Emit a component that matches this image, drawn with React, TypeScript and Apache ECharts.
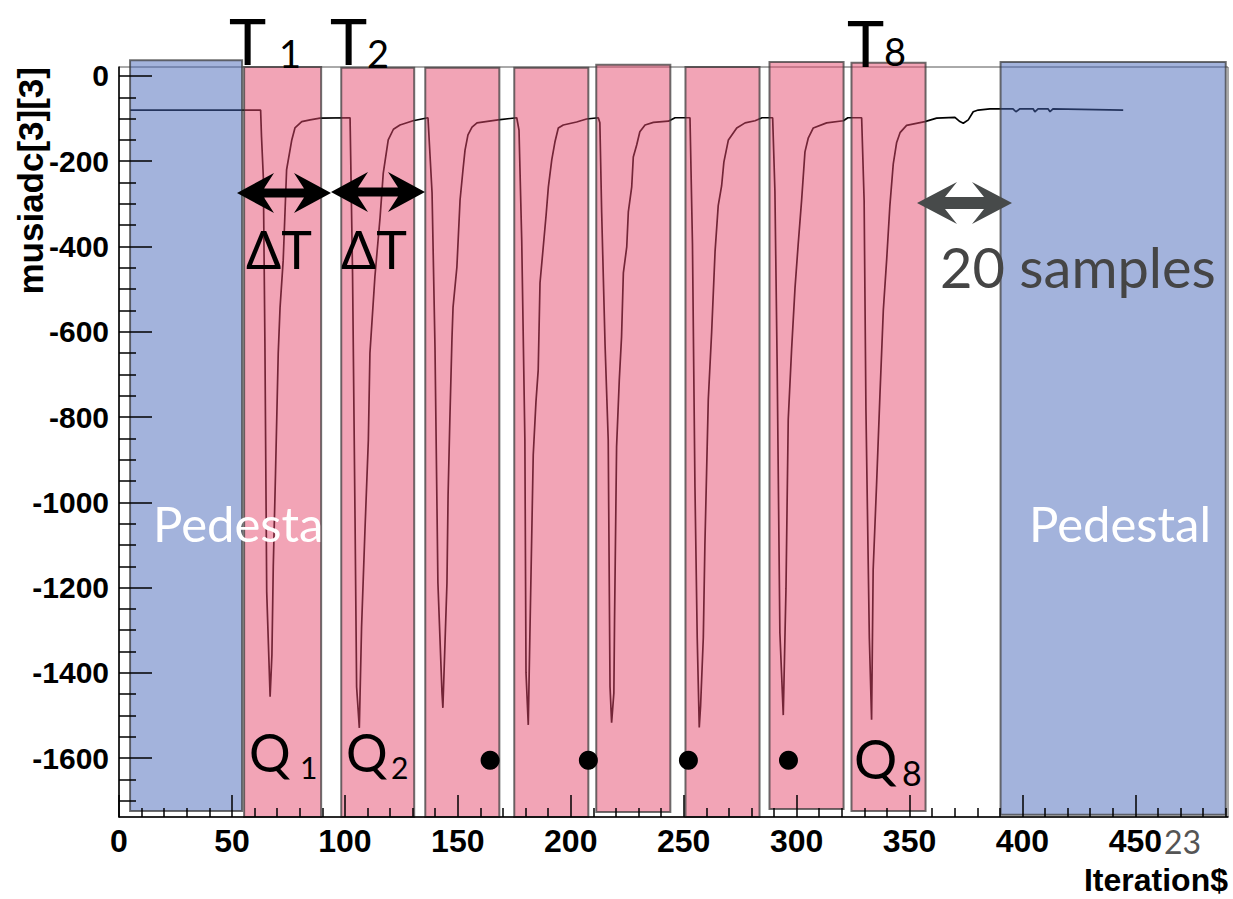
import React, { useEffect, useRef } from 'react';
import * as echarts from 'echarts';

// ---- axis ticks ----
const xMajor = [0, 50, 100, 150, 200, 250, 300, 350, 400, 450];
const xMinor = [10, 20, 30, 40, 60, 70, 80, 90, 110, 120, 130, 140, 160, 170, 180, 190, 210, 220, 230, 240,
  260, 270, 280, 290, 310, 320, 330, 340, 360, 370, 380, 390, 410, 420, 430, 440, 460, 470, 480, 490];
const yMajor = [-1600, -1400, -1200, -1000, -800, -600, -400, -200, 0];
const yMinor = [-1700, -1650, -1550, -1500, -1450, -1350, -1300, -1250, -1150, -1100, -1050, -950, -900, -850,
  -750, -700, -650, -550, -500, -450, -350, -300, -250, -150, -100, -50];

// ---- waveform (Iteration$, musiadc[3][3]) ----
const lead = [[4.9, -80], [62.7, -80]];
const pulse1 = [[63.1, -143], [63.9, -237], [64.6, -626], [65.4, -1210], [66.9, -1456], [67.7, -1358], [68.3, -1151],
  [69.3, -931], [70.5, -650], [71.3, -544], [72.7, -432], [74.2, -220], [76.5, -150], [77.9, -122], [80.9, -107],
  [84.6, -103], [89.0, -99], [102.3, -98]];
const pulse2 = [[103.4, -462], [104.5, -1037], [105.2, -1433], [106.4, -1529], [107.4, -1292], [108.9, -1065],
  [110.4, -854], [111.1, -650], [113.3, -471], [115.6, -331], [117.0, -228], [119.2, -150], [121.5, -125],
  [124.4, -115], [130.2, -105], [136.8, -98]];
const pulse3 = [[138.6, -274], [139.9, -636], [141.2, -1189], [143.0, -1447], [143.4, -1482], [145.2, -1189],
  [145.7, -983], [146.5, -802], [147.4, -619], [147.9, -542], [149.6, -448], [151.0, -291], [152.3, -220],
  [153.2, -174], [154.5, -138], [156.3, -120], [158.5, -110], [167.8, -103], [176.1, -98]];
const pulse4 = [[177.1, -127], [178.3, -385], [179.7, -854], [180.2, -1400], [181.2, -1522], [181.9, -1316],
  [183.4, -889], [184.6, -765], [185.6, -690], [186.4, -485], [187.8, -403], [189.1, -326], [190.1, -260],
  [191.6, -197], [193.0, -155], [194.5, -122], [196.7, -115], [202.6, -108], [207.0, -101], [212.2, -98]];
const pulse5 = [[212.9, -110], [213.7, -321], [215.2, -631], [216.6, -854], [217.4, -1433], [218.1, -1517],
  [219.1, -1447], [219.4, -1276], [220.3, -870], [221.5, -713], [222.5, -612], [223.3, -462], [224.8, -401],
  [225.5, -319], [227.0, -260], [227.7, -190], [229.2, -162], [230.6, -131], [232.9, -115], [236.6, -109],
  [243.2, -106], [246.2, -98], [252.8, -98]];
const pulse6 = [[253.9, -395], [255.0, -964], [256.0, -1317], [256.9, -1528], [257.5, -1477], [258.7, -1317],
  [259.4, -1100], [260.9, -759], [262.4, -600], [263.9, -412], [265.3, -304], [266.8, -258], [267.8, -202],
  [269.8, -150], [273.5, -122], [277.2, -110], [281.6, -105], [284.7, -98], [289.4, -98]];
const pulse7 = [[290.4, -270], [291.4, -680], [292.6, -1306], [294.1, -1499], [295.3, -1203], [296.3, -805],
  [297.8, -640], [299.3, -497], [300.7, -395], [302.2, -293], [303.7, -178], [305.2, -145], [307.4, -122],
  [313.3, -110], [320.7, -105], [322.7, -98], [328.8, -98]];
const pulse8 = [[329.9, -293], [330.7, -782], [332.2, -1317], [333.2, -1510], [333.9, -1158], [335.4, -959],
  [336.9, -748], [338.4, -549], [339.9, -429], [341.3, -304], [342.8, -206], [344.3, -156], [345.8, -133],
  [348.7, -116], [356.8, -107], [362.0, -99], [370.1, -97]];
const tail = [[372.3, -107], [373.8, -111], [376.0, -103], [378.2, -84], [380.4, -80], [385.6, -77], [395.8, -77],
  [397.1, -84], [398.9, -77], [404.7, -77], [405.5, -84], [406.9, -77], [411.3, -77], [412.2, -84], [413.5, -77],
  [444.6, -80]];

// ---- shaded windows (pedestal = 0, pulse = 1) ----
const rectStart = [4.9, 55.4, 98.4, 135.6, 175.0, 211.3, 250.8, 288.0, 324.3, 390.3];
const rectEnd = [54.5, 89.5, 130.7, 168.4, 207.8, 244.1, 283.6, 320.8, 357.1, 490.0];
const rectTop = [37, 21, 19, 19, 19, 26, 21, 33, 31, 33];
const rectBottom = [-1724, -1738, -1738, -1738, -1738, -1726, -1738, -1719, -1724, -1733];
const rectKind = [0, 1, 1, 1, 1, 1, 1, 1, 1, 0];

// ---- dots ----
const dotX = [164.3, 207.8, 252.1, 296.4];
const dotY = [-1605, -1605, -1605, -1605];

const X_MIN = 0;
const X_MAX = 491;
const Y_MIN = -1738;
const Y_MAX = 21;

const AXIS_FONT = '"Liberation Sans", Arial, Helvetica, sans-serif';
const ANNOT_FONT = 'Lato, "Open Sans", sans-serif';

function arrow(x1: number, x2: number, cy: number, L: number, H: number, t: number, n: number, fill: string) {
  return {
    type: 'polygon',
    z: 20,
    shape: {
      points: [
        [x1, cy], [x1 + L, cy - H], [x1 + L - n, cy - t], [x2 - L + n, cy - t], [x2 - L, cy - H],
        [x2, cy], [x2 - L, cy + H], [x2 - L + n, cy + t], [x1 + L - n, cy + t], [x1 + L, cy + H],
      ],
    },
    style: { fill },
  };
}

function label(text: string, x: number, y: number, size: number, color = '#000', extra: any = {}) {
  return {
    type: 'text',
    z: 20,
    x,
    y,
    style: {
      text,
      fill: color,
      font: `${extra.weight || 'normal'} ${size}px ${extra.family || ANNOT_FONT}`,
      align: extra.align || 'left',
      verticalAlign: 'middle',
    },
    ...(extra.rotation ? { rotation: extra.rotation } : {}),
  };
}

export default function App() {
  const ref = useRef<HTMLDivElement>(null);

  useEffect(() => {
    const chart = echarts.init(ref.current!, null, { renderer: 'svg' });
    const trace = [...lead, ...pulse1, ...pulse2, ...pulse3, ...pulse4, ...pulse5, ...pulse6, ...pulse7, ...pulse8, ...tail];
    const rects = rectStart.map((s, i) => [s, rectEnd[i], rectTop[i], rectBottom[i], rectKind[i]]);
    const dots = dotX.map((x, i) => [x, dotY[i]]);

    const tickStyle = { color: '#000', width: 1.5 };
    const plain = (v: number) => String(v);

    const option: any = {
      animation: false,
      backgroundColor: '#ffffff',
      grid: { left: 119, right: 5, top: 67, bottom: 82, show: true, borderColor: '#555', borderWidth: 1, backgroundColor: 'transparent' },
      xAxis: [
        {
          type: 'value', min: X_MIN, max: X_MAX, position: 'bottom', z: 6,
          axisLine: { show: true, onZero: false, lineStyle: { color: '#000', width: 1.5 } },
          axisTick: { show: true, inside: true, length: 22, customValues: xMajor, lineStyle: tickStyle },
          axisLabel: { show: true, customValues: xMajor, formatter: plain, margin: 8, fontFamily: AXIS_FONT, fontWeight: 'bold', fontSize: 32, color: '#000' },
          splitLine: { show: false },
        },
        {
          type: 'value', min: X_MIN, max: X_MAX, position: 'top', offset: -750, z: 6,
          axisLine: { show: false, onZero: false },
          axisTick: { show: true, inside: false, length: 9, customValues: xMinor, lineStyle: tickStyle },
          axisLabel: { show: false },
          splitLine: { show: false },
        },
      ],
      yAxis: [
        {
          type: 'value', min: Y_MIN, max: Y_MAX, position: 'left', z: 6,
          axisLine: { show: true, onZero: false, lineStyle: { color: '#000', width: 1.5 } },
          axisTick: { show: true, inside: true, length: 33, customValues: yMajor, lineStyle: tickStyle },
          axisLabel: { show: true, customValues: yMajor, formatter: plain, margin: 10, fontFamily: AXIS_FONT, fontWeight: 'bold', fontSize: 30, color: '#000' },
          splitLine: { show: false },
        },
        {
          type: 'value', min: Y_MIN, max: Y_MAX, position: 'right', offset: -1109, z: 6,
          axisLine: { show: false, onZero: false },
          axisTick: { show: true, inside: false, length: 17, customValues: yMinor, lineStyle: tickStyle },
          axisLabel: { show: false },
          splitLine: { show: false },
        },
      ],
      series: [
        {
          type: 'line',
          data: trace,
          xAxisIndex: 0,
          yAxisIndex: 0,
          showSymbol: false,
          symbol: 'none',
          z: 2,
          lineStyle: { color: '#000', width: 1.7 },
        },
        {
          type: 'custom',
          data: rects,
          xAxisIndex: 0,
          yAxisIndex: 0,
          clip: false,
          z: 3,
          encode: { x: [0, 1], y: [2, 3] },
          renderItem: (params: any, api: any) => {
            const p0 = api.coord([api.value(0), api.value(2)]);
            const p1 = api.coord([api.value(1), api.value(3)]);
            const kind = api.value(4);
            return {
              type: 'rect',
              shape: { x: p0[0], y: p0[1], width: p1[0] - p0[0], height: p1[1] - p0[1] },
              style: {
                fill: kind === 0 ? 'rgba(72,104,186,0.5)' : 'rgba(230,74,110,0.5)',
                stroke: 'rgba(55,55,55,0.72)',
                lineWidth: 2,
              },
            };
          },
        },
        {
          type: 'scatter',
          data: dots,
          xAxisIndex: 0,
          yAxisIndex: 0,
          symbol: 'circle',
          symbolSize: 19,
          z: 4,
          itemStyle: { color: '#000', opacity: 1 },
        },
      ],
      graphic: [
        arrow(237, 331, 193, 37, 20, 4.5, 10, '#000'),
        arrow(331, 425, 192, 37, 20, 4.5, 10, '#000'),
        arrow(917, 1012, 203, 40, 21, 6, 12, '#474a4a'),
        label('T', 229, 40, 63),
        label('1', 279, 53, 38),
        label('T', 330, 40, 63),
        label('2', 367, 53, 38),
        label('T', 847, 42, 63),
        label('8', 884, 51, 38),
        label('ΔT', 246, 249, 52),
        label('ΔT', 341, 249, 52),
        label('20 samples', 940, 266, 56, '#454545'),
        label('Pedesta', 153, 523, 49, '#ffffff'),
        label('Pedestal', 1029, 523, 49, '#ffffff'),
        label('Q', 249, 752, 52),
        label('1', 300, 767, 30),
        label('Q', 346, 752, 52),
        label('2', 391, 767, 30),
        label('Q', 854, 758, 54),
        label('8', 902, 772, 34),
        label('23', 1164, 841, 32, '#555'),
        label('Iteration$', 1228, 880, 32, '#000', { weight: 'bold', family: AXIS_FONT, align: 'right' }),
        label('musiadc[3][3]', 30, 67, 35, '#000', { weight: 'bold', family: AXIS_FONT, align: 'right', rotation: Math.PI / 2 }),
      ],
    };

    chart.setOption(option);
    return () => chart.dispose();
  }, []);

  return (
    <div
      ref={ref}
      style={{ position: 'fixed', left: 0, top: 0, width: 1233, height: 899, background: '#ffffff' }}
    />
  );
}
